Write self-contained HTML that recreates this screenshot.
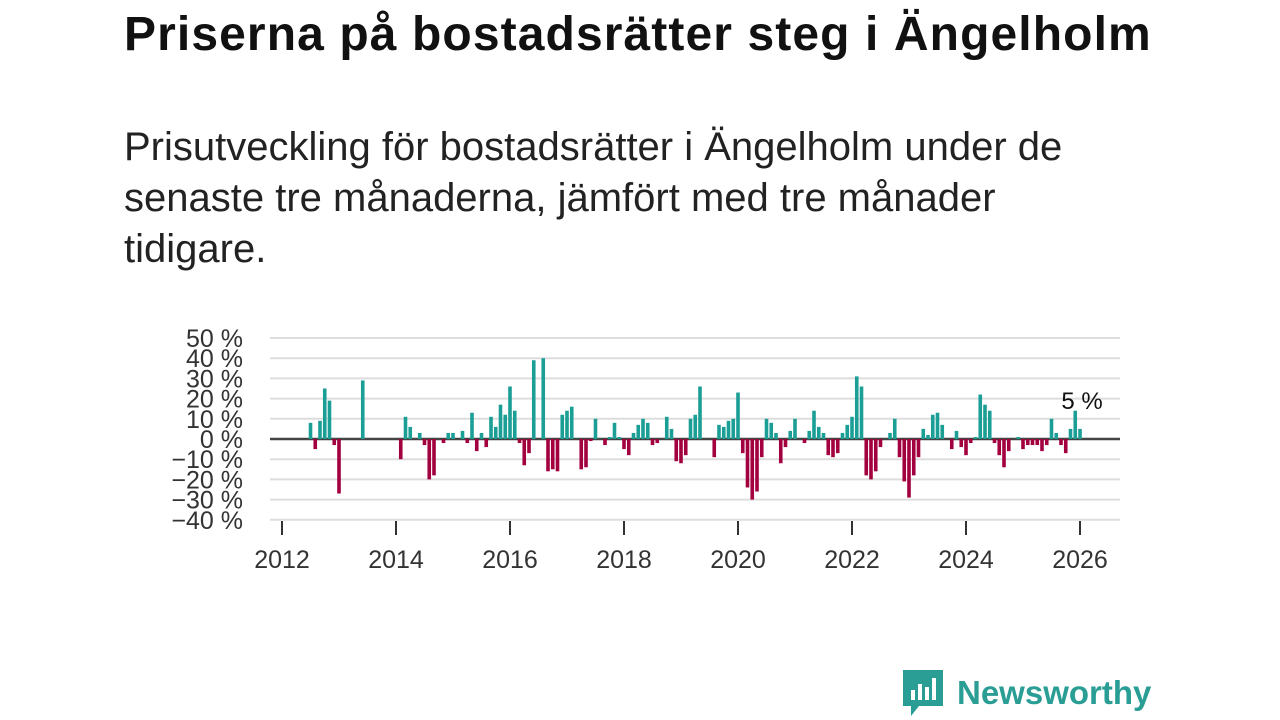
<!DOCTYPE html>
<html><head><meta charset="utf-8"><style>
html,body{margin:0;padding:0;background:#fff;width:1280px;height:720px;overflow:hidden;font-family:"Liberation Sans",sans-serif;}
#title{position:absolute;left:124px;top:7px;font-size:48px;letter-spacing:1.1px;font-weight:bold;color:#111;margin:0;white-space:nowrap;}
#subtitle{position:absolute;left:124px;top:122px;font-size:40px;line-height:51px;color:#222;width:1000px;margin:0;}
svg{position:absolute;left:0;top:0;}
#logo{position:absolute;left:903px;top:670px;display:flex;align-items:center;}
#logo span{font-size:33px;font-weight:bold;color:#2a9d94;margin-left:14px;}
</style></head><body>
<h1 id="title">Priserna på bostadsrätter steg i Ängelholm</h1>
<p id="subtitle">Prisutveckling för bostadsrätter i Ängelholm under de senaste tre månaderna, jämfört med tre månader tidigare.</p>
<svg id="chart" width="1280" height="720"></svg>
<div id="logo">
<svg width="40" height="46" style="position:static"><path d="M0 0H40V36H16L8 46V36H0Z" fill="#2a9d94"/><rect x="8" y="20" width="4" height="10" fill="#fff"/><rect x="15" y="14" width="4" height="16" fill="#fff"/><rect x="22" y="17" width="4" height="13" fill="#fff"/><rect x="29" y="8" width="4" height="22" fill="#fff"/></svg>
<span>Newsworthy</span></div>
<script>
// months since Jan 2012
const months=[6,7,8,9,10,11,12,17,25,26,27,29,30,31,32,34,35,36,38,39,40,41,42,43,44,45,46,47,48,49,50,51,52,53,55,56,57,58,59,60,61,63,64,65,66,68,69,70,71,72,73,74,75,76,77,78,79,81,82,83,84,85,86,87,88,91,92,93,94,95,96,97,98,99,100,101,102,103,104,105,106,107,108,110,111,112,113,114,115,116,117,118,119,120,121,122,123,124,125,126,128,129,130,131,132,133,134,135,136,137,138,139,141,142,143,144,145,146,147,148,149,150,151,152,153,155,156,157,158,159,160,161,162,163,164,165,166,167,168];
const values=[8,-5,9,25,19,-3,-27,29,-10,11,6,3,-3,-20,-18,-2,3,3,4,-2,13,-6,3,-4,11,6,17,12,26,14,-2,-13,-7,39,40,-16,-15,-16,12,14,16,-15,-14,-1,10,-3,1,8,1,-5,-8,3,7,10,8,-3,-2,11,5,-11,-12,-8,10,12,26,-9,7,6,9,10,23,-7,-24,-30,-26,-9,10,8,3,-12,-4,4,10,-2,4,14,6,3,-8,-9,-7,3,7,11,31,26,-18,-20,-16,-4,3,10,-9,-21,-29,-18,-9,5,2,12,13,7,-5,4,-4,-8,-2,1,22,17,14,-2,-8,-14,-6,1,-5,-3,-3,-3,-6,-3,10,3,-3,-7,5,14,5];
const yTicks=[50,40,30,20,10,0,-10,-20,-30,-40];
const xYears=[2012,2014,2016,2018,2020,2022,2024,2026];
const svg=document.getElementById('chart');const NS='http://www.w3.org/2000/svg';
const xOf=m=>282+m*57/12;const yOf=v=>439-v*2.02;
function mk(t,a){const e=document.createElementNS(NS,t);for(const k in a)e.setAttribute(k,a[k]);svg.appendChild(e);return e;}
yTicks.forEach(v=>{
const g=mk('line',{x1:270,x2:1120,y1:yOf(v),y2:yOf(v),stroke:v===0?'#444':'#ddd','stroke-width':v===0?2.5:2});


const t=mk('text',{x:243,y:yOf(v)+9,'text-anchor':'end','font-size':25,fill:'#333','font-family':'Liberation Sans, sans-serif'});
t.textContent=(v<0?'−'+(-v):v)+' %';


});
xYears.forEach(y=>{const x=xOf((y-2012)*12);
const l=mk('line',{x1:x,x2:x,y1:521,y2:535,stroke:'#333','stroke-width':2});


const t=mk('text',{x:x,y:568,'text-anchor':'middle','font-size':25,fill:'#333','font-family':'Liberation Sans, sans-serif'});
t.textContent=y;


});
months.forEach((m,i)=>{const v=values[i];const x=xOf(m);
const r=mk('rect',{x:x-1.8,width:3.6,y:v>=0?yOf(v):yOf(0),height:Math.abs(yOf(v)-yOf(0)),fill:v>=0?'#1a9e96':'#a3003f'});


});
const li=months.length-1;
const lab=mk('text',{x:xOf(months[li])+2,y:yOf(values[li])-20,'text-anchor':'middle','font-size':24,fill:'#111','font-family':'Liberation Sans, sans-serif'});
lab.textContent=values[li]+' %';


</script>
</body></html>
